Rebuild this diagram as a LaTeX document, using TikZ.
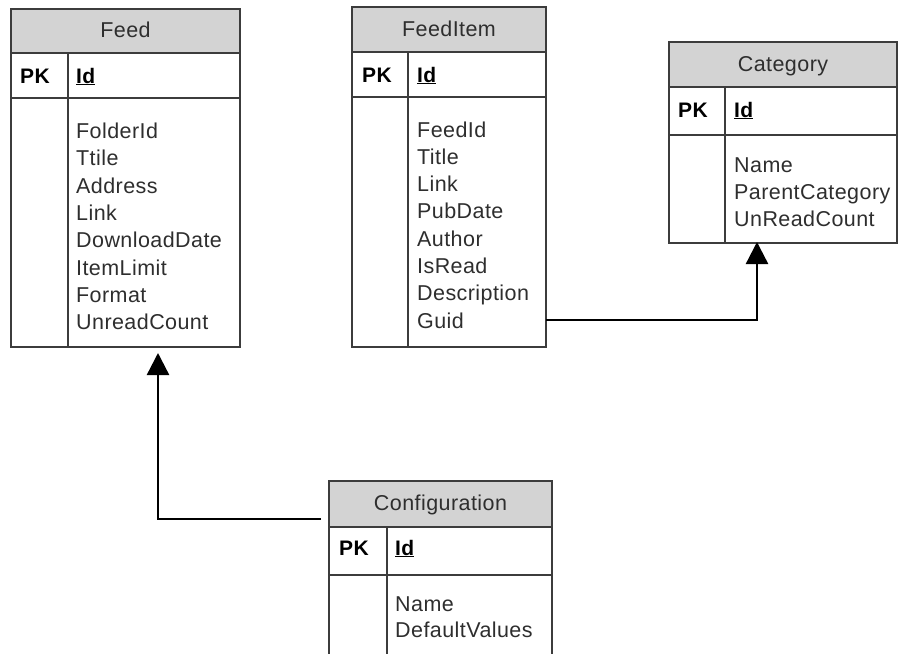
\documentclass[tikz,border=0pt]{standalone}
\usepackage{fontspec}
\setmainfont[LetterSpace=2]{Liberation Sans}
\usetikzlibrary{arrows.meta,calc}

\definecolor{hdrfill}{HTML}{D3D3D3}
\definecolor{edge}{HTML}{3C3C3C}
\definecolor{fieldtext}{HTML}{2E2E2E}

\begin{document}
\begin{tikzpicture}[x=1pt,y=-1pt,
  box/.style={draw=edge, line width=1.7pt, inner sep=0pt, outer sep=0pt,
    anchor=north west, minimum width=#1},
  headbox/.style={box=#1, fill=hdrfill},
  title/.style={anchor=base, text=fieldtext, inner sep=0pt,
    font=\fontsize{21.5}{24}\selectfont},
  pk/.style={anchor=base west, inner sep=0pt,
    font=\fontsize{21}{24}\selectfont\bfseries},
  field/.style={anchor=base west, inner sep=0pt, text=fieldtext,
    font=\fontsize{21.5}{24}\selectfont},
  divider/.style={draw=edge, line width=1.7pt},
  conn/.style={draw=black, line width=2.4pt,
    -{Triangle[length=22pt,width=22pt]}}
]
\clip (0,0) rectangle (899,653);

% ---------- Feed ----------
\node[headbox=229, minimum height=44] (feed-head) at (11,9) {};
\node[box=229, minimum height=45] (feed-key) at (11,53) {};
\node[box=229, minimum height=249] (feed-body) at (11,98) {};
\draw[divider] ([xshift=57pt]feed-key.north west) -- ([xshift=57pt]feed-body.south west);
\node[title] (feed-title) at (125.5,37.5) {Feed};
\node[pk] (feed-pk) at (20,83) {PK};
\node[pk] (feed-id) at (76,83) {\underline{Id}};
\foreach \f [count=\i from 0] in {FolderId,Ttile,Address,Link,DownloadDate,ItemLimit,Format,UnreadCount}
  \node[field] (feed-f\i) at (76,138.5+27.3*\i) {\f};

% ---------- FeedItem ----------
\node[headbox=194, minimum height=45] (item-head) at (352,7) {};
\node[box=194, minimum height=45] (item-key) at (352,52) {};
\node[box=194, minimum height=250] (item-body) at (352,97) {};
\draw[divider] ([xshift=56pt]item-key.north west) -- ([xshift=56pt]item-body.south west);
\node[title] (item-title) at (449,36) {FeedItem};
\node[pk] (item-pk) at (362,82) {PK};
\node[pk] (item-id) at (417,82) {\underline{Id}};
\foreach \f [count=\i from 0] in {FeedId,Title,Link,PubDate,Author,IsRead,Description,Guid}
  \node[field] (item-f\i) at (417,137+27.3*\i) {\f};

% ---------- Category ----------
\node[headbox=228, minimum height=45] (cat-head) at (669,42) {};
\node[box=228, minimum height=48] (cat-key) at (669,87) {};
\node[box=228, minimum height=108] (cat-body) at (669,135) {};
\draw[divider] ([xshift=56pt]cat-key.north west) -- ([xshift=56pt]cat-body.south west);
\node[title] (cat-title) at (783,71) {Category};
\node[pk] (cat-pk) at (678,117) {PK};
\node[pk] (cat-id) at (734,117) {\underline{Id}};
\foreach \f [count=\i from 0] in {Name,ParentCategory,UnReadCount}
  \node[field] (cat-f\i) at (734,172+27*\i) {\f};

% ---------- Configuration ----------
\node[headbox=223, minimum height=46] (cfg-head) at (329,481) {};
\node[box=223, minimum height=48] (cfg-key) at (329,527) {};
\node[box=223, minimum height=110] (cfg-body) at (329,575) {};
\draw[divider] ([xshift=58pt]cfg-key.north west) -- ([xshift=58pt]cfg-body.south west);
\node[title] (cfg-title) at (440.5,510) {Configuration};
\node[pk] (cfg-pk) at (339,555) {PK};
\node[pk] (cfg-id) at (395,555) {\underline{Id}};
\foreach \f [count=\i from 0] in {Name,DefaultValues}
  \node[field] (cfg-f\i) at (395,611+26.5*\i) {\f};

% ---------- Relationships ----------
\coordinate (item-out) at (item-body.east |- 0,320);
\coordinate (cat-in) at (cat-body.south -| 757,0);
\draw[conn, shorten >=-1pt] (item-out) -| (cat-in);

\coordinate (cfg-out) at ([xshift=-8pt]cfg-head.west |- 0,519);
\coordinate (feed-in) at (feed-body.south -| 158,0);
\draw[conn, shorten >=6pt] (cfg-out) -| (feed-in);
\end{tikzpicture}
\end{document}
